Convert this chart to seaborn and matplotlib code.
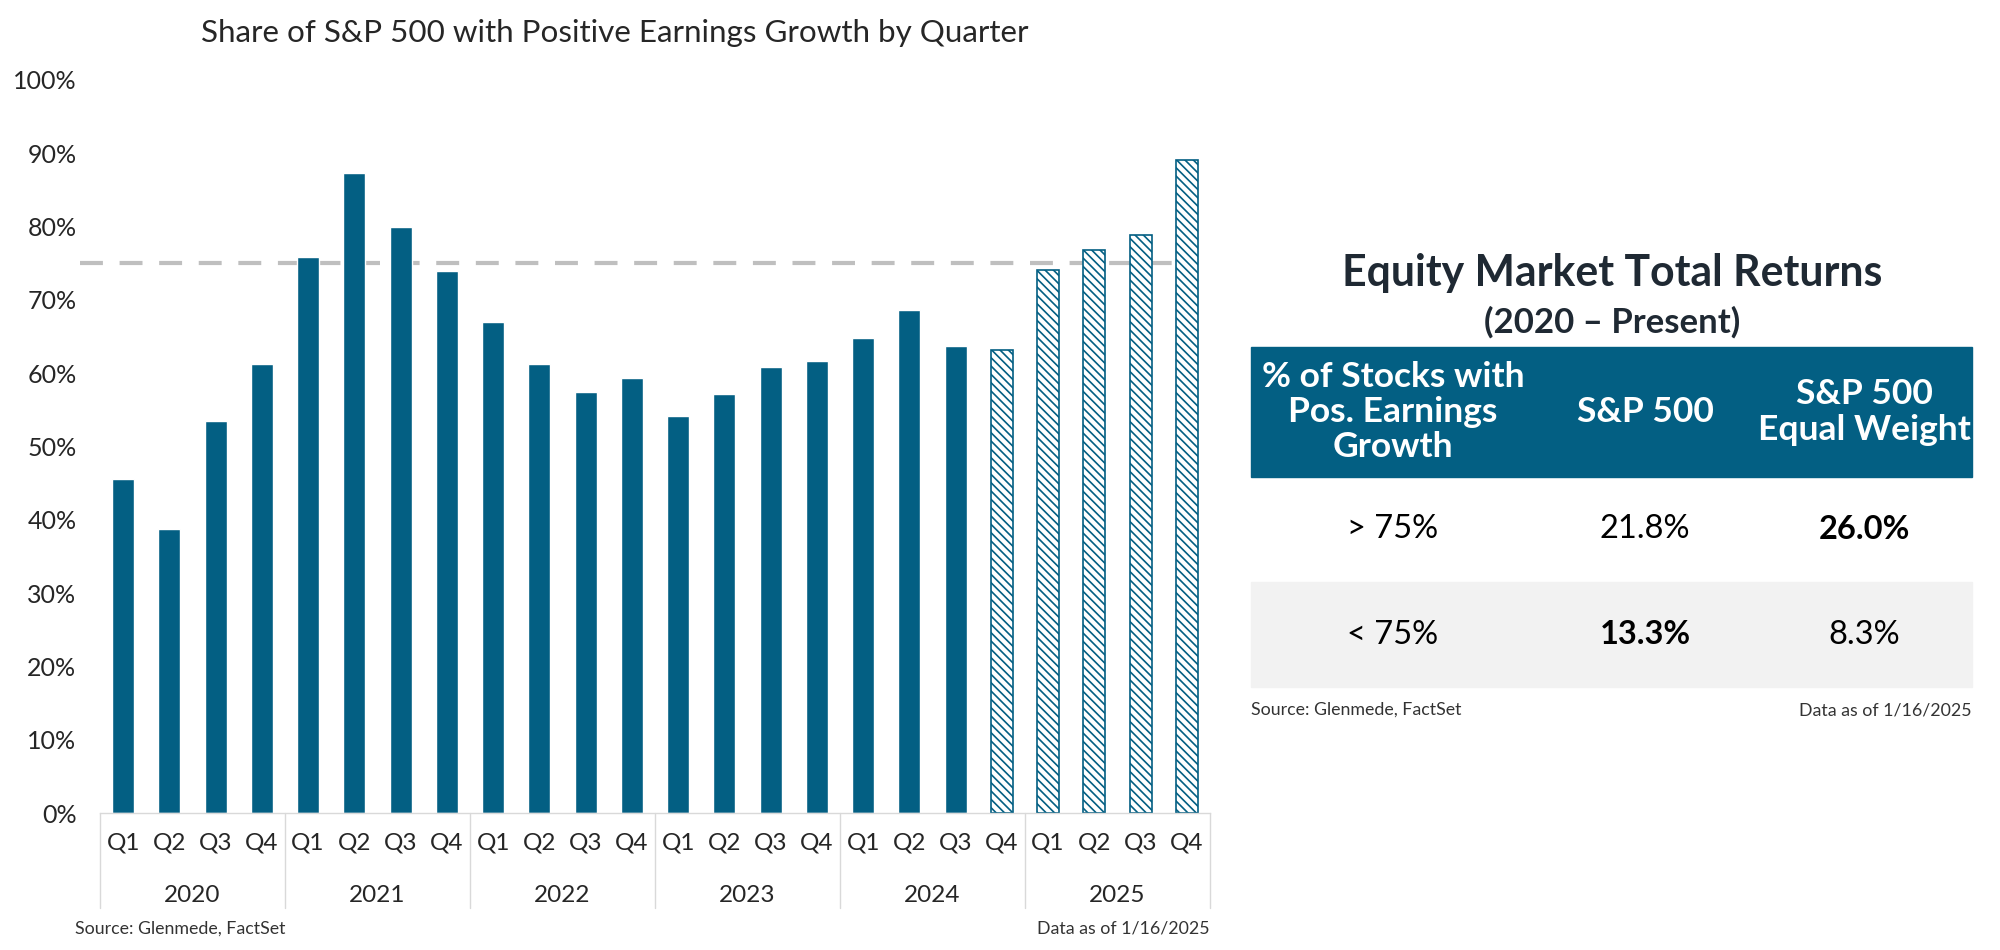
import numpy as np
import pandas as pd
import matplotlib.pyplot as plt
import seaborn as sns
from matplotlib.patches import Rectangle
from matplotlib.ticker import PercentFormatter

# --- data ---
years = ["2020", "2021", "2022", "2023", "2024", "2025"]
quarters = ["Q1", "Q2", "Q3", "Q4"]
share_positive = [45.5, 38.7, 53.5, 61.3,
                  75.8, 87.3, 80.0, 74.0,
                  67.0, 61.3, 57.5, 59.4,
                  54.1, 57.1, 60.8, 61.7,
                  64.8, 68.6, 63.7, 63.1,
                  74.1, 76.8, 78.8, 89.1]
# estimate quarters (hatched bars)
is_estimate = [False] * 19 + [True] * 5
threshold = 75

table_title = "Equity Market Total Returns"
table_subtitle = "(2020 \u2013 Present)"
table_header = ["% of Stocks with\nPos. Earnings\nGrowth", "S&P 500", "S&P 500\nEqual Weight"]
table_rows = ["> 75%", "< 75%"]
sp500_ret = ["21.8%", "13.3%"]
sp500_ew_ret = ["26.0%", "8.3%"]
bold_cells = [(0, 2), (1, 1)]

source = "Source: Glenmede, FactSet"
asof = "Data as of 1/16/2025"

BLUE = "#035f83"

sns.set_style("white")
plt.rcParams["font.family"] = ["Lato", "DejaVu Sans"]
plt.rcParams["hatch.linewidth"] = 1.2

df = pd.DataFrame({
    "period": [f"{y} {q}" for y in years for q in quarters],
    "quarter": quarters * len(years),
    "year": np.repeat(years, 4),
    "value": np.array(share_positive) / 100,
})

fig = plt.figure(figsize=(20, 9.5), dpi=100)
ax = fig.add_axes([0.05, 0.1442, 0.555, 0.7716])

sns.barplot(data=df, x="period", y="value", color=BLUE, width=0.48,
            saturation=1, ax=ax)

for patch, est in zip(ax.patches, is_estimate):
    if est:
        patch.set_facecolor("white")
        patch.set_edgecolor(BLUE)
        patch.set_hatch("\\\\\\\\")
        patch.set_linewidth(1.2)

# 75% threshold line
n = len(df)
ax.plot([-0.93, n - 0.75], [threshold / 100] * 2, color="#bfbfbf", lw=3,
        ls=(0, (5.5, 4)), clip_on=False, zorder=0)

ax.set_xlim(-0.5, n - 0.5)
ax.set_ylim(0, 1)
ax.set_yticks(np.arange(0, 1.01, 0.1))
ax.yaxis.set_major_formatter(PercentFormatter(1.0, decimals=0))
ax.tick_params(axis="y", length=0, pad=17, labelsize=18)
ax.set_xticks(range(n))
ax.set_xticklabels(df["quarter"], fontsize=17.5)
ax.tick_params(axis="x", length=0, pad=14)
ax.set_xlabel("")
ax.set_ylabel("")
for s in ["top", "right", "left"]:
    ax.spines[s].set_visible(False)
ax.spines["bottom"].set_color("#d9d9d9")
ax.spines["bottom"].set_linewidth(1)

# year group labels and separators
trans = ax.get_xaxis_transform()
for i, y in enumerate(years):
    ax.text(i * 4 + 1.5, -0.112, y, transform=trans, ha="center", va="center",
            fontsize=17.5)
for b in range(len(years) + 1):
    ax.plot([b * 4 - 0.5] * 2, [0, -0.13], transform=trans, color="#d9d9d9",
            lw=1, clip_on=False)

fig.text(0.3075, 0.965, "Share of S&P 500 with Positive Earnings Growth by Quarter",
         ha="center", va="center", fontsize=22.6)
fig.text(0.0375, 0.023, source, ha="left", va="center", fontsize=12.8, color="#333333")
fig.text(0.605, 0.023, asof, ha="right", va="center", fontsize=12.8, color="#333333")

# --- table on the right ---
tx0, tx1 = 1251 / 2000, 1972 / 2000
col_x = [1393 / 2000, 1645 / 2000, 1864 / 2000]
head_top, head_bot = 1 - 347 / 950, 1 - 477 / 950
row_h = 105 / 950

fig.text(1612 / 2000, 1 - 273 / 950, table_title, ha="center", va="center",
         fontsize=30.8, fontweight="bold", color="#1f2933")
fig.text(1612 / 2000, 1 - 322 / 950, table_subtitle, ha="center", va="center",
         fontsize=25, fontweight="bold", color="#1f2933")

fig.patches.append(Rectangle((tx0, head_bot), tx1 - tx0, head_top - head_bot,
                             transform=fig.transFigure, color=BLUE, zorder=0))
fig.patches.append(Rectangle((tx0, head_bot - 2 * row_h), tx1 - tx0, row_h,
                             transform=fig.transFigure, color="#f2f2f2", zorder=0))
head_mid = (head_top + head_bot) / 2
for x, h in zip(col_x, table_header):
    fig.text(x, head_mid, h, ha="center", va="center", fontsize=25.5,
             fontweight="bold", color="white", linespacing=1.12)

for r, (lab, a, b) in enumerate(zip(table_rows, sp500_ret, sp500_ew_ret)):
    yc = head_bot - (r + 0.5) * row_h
    for c, txt in enumerate([lab, a, b]):
        w = "bold" if (r, c) in bold_cells else "normal"
        fig.text(col_x[c], yc, txt, ha="center", va="center", fontsize=23.5,
                 fontweight=w, color="black")

fig.text(tx0, 1 - 710 / 950, source, ha="left", va="center", fontsize=12.8, color="#333333")
fig.text(tx1, 1 - 710 / 950, asof, ha="right", va="center", fontsize=12.8, color="#333333")

fig.savefig("out.png", dpi=100, facecolor="white")
